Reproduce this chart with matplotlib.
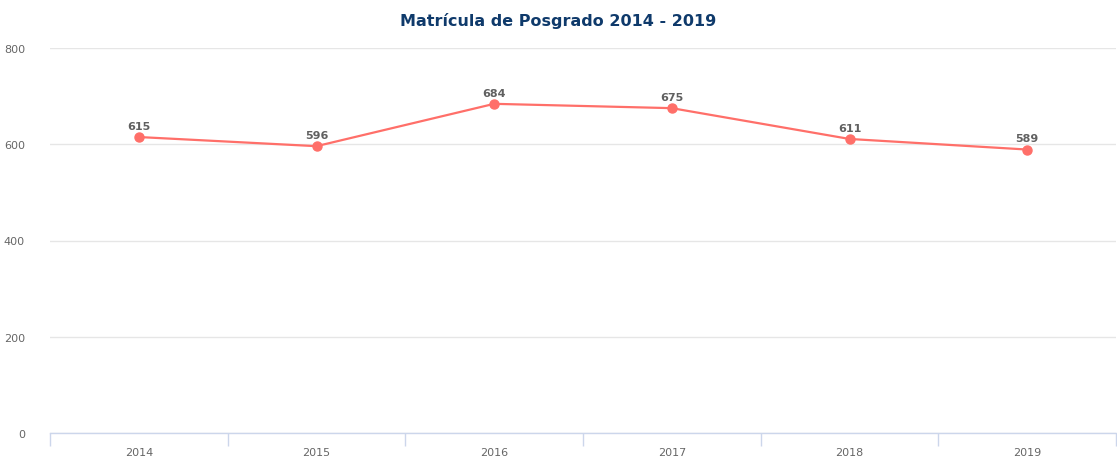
import matplotlib
matplotlib.use("Agg")
import matplotlib.pyplot as plt
import numpy as np

years = ["2014", "2015", "2016", "2017", "2018", "2019"]
values = [615, 596, 684, 675, 611, 589]
yticks = [0, 200, 400, 600, 800]

W, H = 1117, 460
fig = plt.figure(figsize=(W / 100, H / 100), dpi=100)
left, right, top, bottom = 50, 1116, 49, 434
ax = fig.add_axes([left / W, (H - bottom) / H, (right - left) / W, (bottom - top) / H])

x = np.arange(len(years))
ax.plot(x, values, color="#ff6f69", lw=1.6, marker="o", ms=6.5, mec="#ff6f69", mfc="#ff6f69", zorder=3, clip_on=False)
for xi, v in zip(x, values):
    ax.annotate(str(v), (xi, v), xytext=(0, 4.5), textcoords="offset points", ha="center", va="bottom",
                fontsize=8, fontweight="bold", color="#606060")

ax.set_xlim(-0.5, len(years) - 0.5)
ax.set_ylim(0, 800)
ax.set_yticks(yticks)
ax.set_yticklabels([str(t) for t in yticks])
ax.set_xticks(x)
ax.set_xticklabels(years)
ax.set_xticks(np.arange(-0.5, len(years) - 0.4, 1), minor=True)
ax.tick_params(axis="x", which="major", length=0, pad=10, labelsize=8, labelcolor="#666666")
ax.tick_params(axis="x", which="minor", length=9, color="#ccd6eb", width=1)
ax.tick_params(axis="y", length=0, pad=18, labelsize=8, labelcolor="#666666")
ax.yaxis.grid(True, color="#e6e6e6", lw=1)
ax.set_axisbelow(True)
for s in ["top", "right", "left"]:
    ax.spines[s].set_visible(False)
ax.spines["bottom"].set_color("#ccd6eb")
ax.spines["bottom"].set_linewidth(1)

fig.text(0.5, 1 - 21 / H, "Matrícula de Posgrado 2014 - 2019", ha="center", va="center",
         fontsize=11.5, fontweight="bold", color="#0f3a6b")

fig.savefig("out.png", dpi=100)
